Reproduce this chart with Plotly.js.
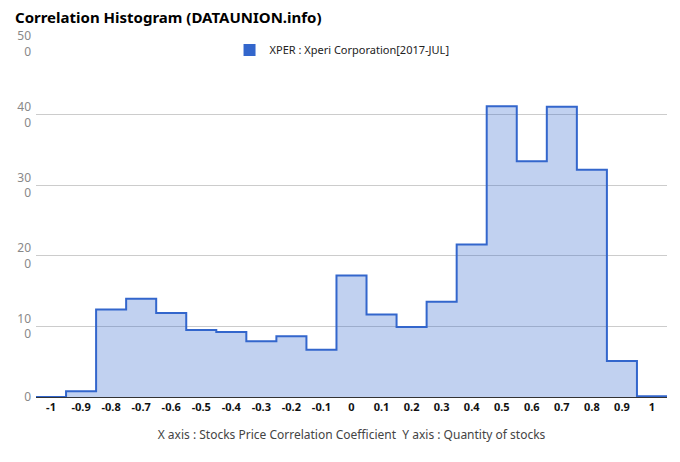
<!DOCTYPE html>
<html>
<head>
<meta charset="utf-8">
<script src="https://cdn.plot.ly/plotly-3.0.1.min.js"></script>
<style>
  html, body { margin: 0; padding: 0; background: #fff; }
  #chart { width: 680px; height: 462px; }
</style>
</head>
<body>
<div id="chart"></div>
<script>
// Bin centres (correlation coefficient) and counts
const binCenters = [-1, -0.9, -0.8, -0.7, -0.6, -0.5, -0.4, -0.3, -0.2, -0.1, 0,
                    0.1, 0.2, 0.3, 0.4, 0.5, 0.6, 0.7, 0.8, 0.9, 1];
const counts = [0, 8, 124, 139, 119, 95, 92, 79, 86, 67, 172,
                117, 99, 135, 216, 412, 334, 411, 322, 51, 1];
const binWidth = 0.1;
const seriesName = 'XPER : Xperi Corporation[2017-JUL]';
const xTickVals = [-1, -0.9, -0.8, -0.7, -0.6, -0.5, -0.4, -0.3, -0.2, -0.1, 0,
                   0.1, 0.2, 0.3, 0.4, 0.5, 0.6, 0.7, 0.8, 0.9, 1];
const xTickText = ['-1', '-0.9', '-0.8', '-0.7', '-0.6', '-0.5', '-0.4', '-0.3', '-0.2', '-0.1', '0',
                   '0.1', '0.2', '0.3', '0.4', '0.5', '0.6', '0.7', '0.8', '0.9', '1'];
const yTickVals = [0, 100, 200, 300, 400, 500];
const yTickText = ['0', '10<br>0', '20<br>0', '30<br>0', '40<br>0', '50<br>0'];

// step outline: each bin spans centre +/- half width
const stepX = binCenters.map(c => c - binWidth / 2).concat([binCenters[binCenters.length - 1] + binWidth / 2]);
const stepY = counts.concat([counts[counts.length - 1]]);

const traces = [
  {
    x: stepX, y: stepY, type: 'scatter', mode: 'lines',
    line: { shape: 'hv', color: '#3366cc', width: 2 },
    fill: 'tozeroy', fillcolor: 'rgba(51,102,204,0.3)',
    showlegend: false, hoverinfo: 'skip'
  },
  {
    x: [null], y: [null], type: 'scatter', mode: 'markers',
    marker: { symbol: 'square', size: 12, color: '#3366cc' },
    name: seriesName, showlegend: true
  }
];

const layout = {
  width: 680, height: 462,
  margin: { l: 36, r: 13, t: 44, b: 65 },
  paper_bgcolor: '#fff', plot_bgcolor: '#fff',
  font: { family: 'Noto Sans, sans-serif', color: '#222' },
  title: {
    text: '<b>Correlation Histogram (DATAUNION.info)</b>',
    x: 15 / 680, xref: 'container', xanchor: 'left', y: 0.962, yref: 'container', yanchor: 'middle',
    font: { size: 15, color: '#000', family: 'Noto Sans, sans-serif' }
  },
  xaxis: {
    range: [-1.05, 1.05], tickvals: xTickVals, ticktext: xTickText,
    showgrid: false, zeroline: false, showline: true, linecolor: '#333', linewidth: 1,
    ticks: '', tickfont: { size: 11, color: '#111', family: 'Noto Sans, sans-serif', weight: 'bold' },
    title: { text: 'X axis : Stocks Price Correlation Coefficient  Y axis : Quantity of stocks',
             font: { size: 12, color: '#444' }, standoff: 17 }
  },
  yaxis: {
    range: [0, 500], tickvals: yTickVals, ticktext: yTickText,
    showgrid: true, gridcolor: '#cccccc', gridwidth: 1, zeroline: false,
    ticks: '', ticklabelstandoff: 4,
    tickfont: { size: 12, color: '#888', family: 'Noto Sans, sans-serif' }
  },
  legend: {
    orientation: 'h', x: 0.485, xanchor: 'center', y: 0.983, yanchor: 'middle',
    font: { size: 11, color: '#222' }, bgcolor: 'rgba(0,0,0,0)', itemwidth: 30
  },
  showlegend: true
};

Plotly.newPlot('chart', traces, layout, { displayModeBar: false, staticPlot: true });
</script>
</body>
</html>
